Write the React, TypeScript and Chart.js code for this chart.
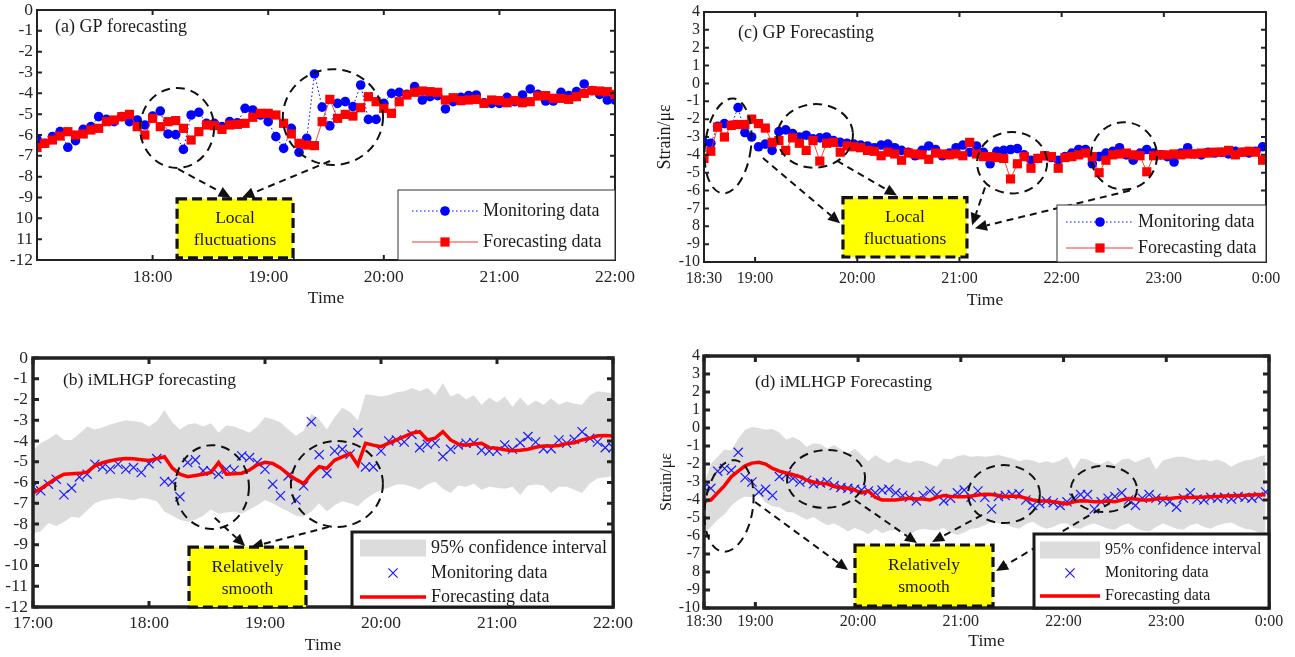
import React, { useEffect, useRef } from 'react';
import { Chart, registerables } from 'chart.js';

Chart.register(...registerables);

const SERIF = '"Liberation Serif", "Times New Roman", Times, serif';
const STEP_MIN = 4; // sampling interval, minutes

// ---------------- axis ticks ----------------
const AB_X_TICKS = [0, 60, 120, 180, 240, 300];
const A_X_LABELS = ['', '18:00', '19:00', '20:00', '21:00', '22:00'];
const B_X_LABELS = ['17:00', '18:00', '19:00', '20:00', '21:00', '22:00'];
const CD_X_TICKS = [0, 30, 90, 150, 210, 270, 330];
const CD_X_LABELS = ['18:30', '19:00', '20:00', '21:00', '22:00', '23:00', '0:00'];
const AB_Y_TICKS = [0, -1, -2, -3, -4, -5, -6, -7, -8, -9, -10, -11, -12];
const A_Y_LABELS = ['0', '-1', '-2', '-3', '-4', '-5', '-6', '-7', '-8', '-9', '10', '11', '-12'];
const B_Y_LABELS = ['0', '-1', '-2', '-3', '-4', '-5', '-6', '-7', '-8', '-9', '-10', '-11', '-12'];
const CD_Y_TICKS = [4, 3, 2, 1, 0, -1, -2, -3, -4, -5, -6, -7, -8, -9, -10];
const CD_Y_LABELS = ['4', '3', '2', '1', '0', '-1', '-2', '-3', '-4', '-5', '-6', '-7', '8', '-9', '-10'];

// ---------------- data: 17:00-22:00 (panels a, b) ----------------
const MON_AB = [
  -6.2, -6.4, -6.08, -5.84, -6.59, -6.27, -5.73, -5.6, -5.12, -5.25,
  -5.36, -5.12, -5.36, -5.28, -5.52, -5.09, -4.85, -5.95, -5.98, -6.69,
  -5.04, -4.91, -5.44, -5.44, -5.6, -5.36, -5.41, -4.72, -4.8, -5.04,
  -5.36, -6.08, -6.64, -5.68, -6.83, -6.16, -3.07, -4.66, -5.56, -4.48,
  -4.4, -4.64, -3.6, -5.25, -5.25, -4.48, -4.0, -3.95, -4.05, -3.68,
  -4.32, -4.16, -4.11, -4.75, -4.4, -4.19, -4.11, -4.08, -4.45, -4.48,
  -4.48, -4.19, -4.4, -4.08, -3.79, -4.05, -4.37, -4.37, -3.95, -4.11,
  -3.92, -3.55, -3.87, -4.05, -4.32, -4.32,
];
const FC_A = [
  -6.6, -6.4, -6.24, -6.05, -5.84, -6.0, -5.95, -5.76, -5.68, -5.36,
  -5.28, -5.12, -5.01, -5.6, -6.0, -5.2, -5.6, -5.36, -5.31, -5.68,
  -6.24, -5.84, -5.52, -5.55, -5.73, -5.52, -5.49, -5.44, -5.15, -4.96,
  -4.96, -5.04, -5.44, -5.95, -6.4, -6.48, -6.51, -5.36, -4.29, -5.2,
  -5.01, -5.09, -4.69, -4.16, -4.4, -4.72, -4.96, -4.4, -4.08, -3.95,
  -3.89, -3.92, -3.95, -4.32, -4.21, -4.35, -4.32, -4.29, -4.48, -4.32,
  -4.35, -4.45, -4.35, -4.45, -4.4, -4.13, -4.11, -4.24, -4.24, -4.29,
  -4.16, -4.0, -3.87, -3.89, -3.92, -4.05,
];
const FC_B = [
  -6.5, -6.3, -6.05, -5.8, -5.6, -5.58, -5.56, -5.5, -5.2, -5.05,
  -4.95, -4.88, -4.84, -4.86, -4.9, -4.94, -4.85, -4.76, -5.3, -5.6,
  -5.72, -5.66, -5.6, -5.52, -5.04, -5.6, -5.58, -5.55, -5.4, -5.15,
  -5.03, -5.08, -5.3, -5.6, -5.85, -6.05, -5.6, -5.24, -5.32, -4.92,
  -4.76, -4.6, -5.16, -4.11, -4.2, -4.27, -4.1, -3.95, -3.79, -3.62,
  -3.55, -3.95, -3.87, -3.55, -3.95, -4.15, -4.2, -4.15, -4.11, -4.32,
  -4.35, -4.42, -4.47, -4.45, -4.4, -4.3, -4.24, -4.24, -4.22, -4.12,
  -4.08, -3.95, -3.87, -3.75, -3.73, -3.76,
];
const BAND_B_UP = [
  -4.45, -4.1, -3.9, -3.65, -3.95, -3.95, -3.65, -3.3, -3.45, -3.35,
  -3.2, -3.1, -3.0, -3.05, -3.1, -3.3, -3.05, -2.5, -3.1, -3.45,
  -3.2, -3.15, -3.3, -3.15, -3.6, -3.25, -3.3, -3.45, -3.6, -3.3,
  -2.85, -2.95, -3.1, -3.45, -3.75, -3.5, -2.7, -2.95, -3.45, -2.85,
  -2.4, -2.6, -3.0, -1.75, -1.8, -1.85, -1.8, -1.65, -1.6, -1.45,
  -1.6, -1.45, -1.8, -1.2, -1.85, -1.7, -2.0, -1.8, -2.25, -1.9,
  -2.15, -1.85, -2.35, -1.9, -2.3, -2.05, -2.25, -1.95, -2.25, -2.1,
  -2.2, -2.25, -1.8, -1.6, -1.65, -1.7,
];
const BAND_B_LO = [
  -8.45, -8.35, -7.95, -8.1, -7.9, -7.65, -7.7, -7.35, -7.0, -6.85,
  -6.8, -6.75, -6.8, -6.85, -6.75, -6.8, -6.9, -7.4, -7.6, -7.8,
  -7.9, -7.8, -7.6, -7.3, -7.5, -7.45, -7.4, -7.5, -7.3, -7.1,
  -6.85, -7.0, -7.2, -7.4, -7.6, -7.65, -7.4, -7.0, -7.4, -7.1,
  -6.9, -7.0, -7.15, -6.8, -6.55, -6.35, -6.25, -6.1, -6.1, -6.2,
  -6.35, -6.1, -5.95, -6.3, -6.5, -6.15, -6.2, -6.05, -6.35, -6.2,
  -6.25, -6.3, -6.2, -6.6, -6.15, -6.1, -6.15, -6.5, -6.2, -6.2,
  -6.35, -6.5, -6.05, -5.8, -5.75, -5.7,
];

// ---------------- data: 18:30-0:00 (panels c, d) ----------------
const MON_CD = [
  -3.3, -3.35, -2.4, -2.25, -2.35, -1.35, -2.75, -3.0, -3.55, -3.4,
  -3.75, -2.7, -2.6, -2.8, -3.0, -2.9, -3.1, -3.05, -3.0, -3.2,
  -3.3, -3.35, -3.4, -3.45, -3.5, -3.6, -3.45, -3.4, -3.6, -3.75,
  -3.85, -4.05, -3.75, -3.5, -3.7, -4.05, -3.9, -3.6, -3.45, -3.85,
  -3.5, -3.85, -4.5, -3.8, -3.75, -3.7, -3.65, -4.0, -4.3, -4.2,
  -4.05, -4.15, -4.3, -4.1, -3.9, -3.7, -3.7, -4.5, -4.1, -3.9,
  -3.8, -3.6, -4.0, -4.3, -3.9, -3.7, -3.9, -4.0, -4.1, -4.4,
  -3.9, -3.6, -3.95, -4.0, -3.85, -3.9, -3.85, -3.95, -3.8, -3.85,
  -3.9, -3.8, -3.55,
];
const FC_C = [
  -4.2, -3.8, -2.45, -3.0, -2.35, -2.3, -2.3, -2.0, -2.25, -2.5,
  -3.3, -3.2, -3.75, -3.05, -3.35, -3.75, -3.2, -4.35, -3.35, -3.3,
  -3.85, -3.5, -3.55, -3.6, -3.75, -3.8, -4.05, -3.85, -3.95, -4.3,
  -3.9, -3.95, -4.0, -4.25, -3.9, -3.95, -4.0, -3.95, -4.05, -3.3,
  -3.95, -4.1, -4.1, -4.15, -4.2, -5.35, -4.5, -4.1, -4.75, -4.2,
  -4.05, -4.1, -4.75, -4.15, -4.1, -4.0, -3.9, -4.1, -5.0, -4.3,
  -4.0, -3.95, -3.9, -4.0, -4.05, -4.95, -4.05, -4.0, -4.0, -3.95,
  -4.0, -3.95, -3.95, -3.9, -3.9, -3.85, -3.85, -3.75, -4.0, -3.85,
  -3.8, -3.85, -4.3,
];
const FC_D = [
  -4.05, -4.0, -3.6, -3.2, -2.7, -2.4, -2.1, -1.95, -1.9, -2.0,
  -2.25, -2.4, -2.5, -2.6, -2.7, -2.9, -3.0, -3.07, -3.1, -3.25,
  -3.3, -3.35, -3.45, -3.6, -3.5, -3.85, -4.0, -4.0, -4.0, -3.95,
  -3.9, -3.95, -3.95, -4.0, -3.85, -3.75, -3.8, -3.82, -3.82, -3.78,
  -3.72, -3.68, -3.7, -3.75, -3.82, -3.78, -3.8, -3.9, -4.0, -4.05,
  -4.05, -4.1, -4.15, -4.22, -4.1, -4.04, -4.05, -4.1, -4.1, -4.05,
  -4.1, -4.0, -3.92, -3.95, -4.0, -4.0, -3.95, -3.9, -3.92, -3.88,
  -3.85, -3.86, -3.85, -3.84, -3.82, -3.8, -3.78, -3.76, -3.75, -3.74,
  -3.72, -3.7, -3.72,
];
const BAND_D_UP = [
  -3.1, -2.0, -1.6, -1.2, -1.25, -0.6, -0.1, 0.05, 0.0, -0.1,
  -0.05, -0.25, -0.65, -0.5, -0.7, -1.05, -0.85, -0.9, -1.15, -0.95,
  -1.2, -1.4, -1.15, -1.5, -1.85, -1.5, -1.75, -1.95, -1.7, -1.85,
  -1.95, -1.8, -1.85, -2.0, -2.15, -1.7, -1.75, -1.55, -1.5, -1.6,
  -1.55, -1.6, -1.55, -1.5, -1.6, -1.7, -1.85, -1.75, -1.8, -1.95,
  -1.85, -1.95, -1.8, -1.6, -2.3, -1.7, -1.75, -1.95, -2.0, -1.8,
  -2.05, -1.75, -1.7, -1.9, -1.75, -1.6, -2.3, -1.8, -1.7, -1.6,
  -1.6, -1.7, -1.8, -1.75, -1.85, -1.75, -1.9, -2.15, -1.95, -1.8,
  -1.75, -1.6, -1.5,
];
const BAND_D_LO = [
  -5.85, -5.5, -5.1, -4.8, -4.3, -4.0, -3.8, -3.85, -3.7, -4.15,
  -4.35, -4.4, -4.65, -4.7, -4.9, -5.1, -4.95, -5.2, -5.4, -5.3,
  -5.5, -5.75, -5.55, -5.7, -5.9, -5.6, -5.85, -5.7, -5.65, -5.8,
  -5.95, -5.7, -5.6, -5.65, -5.7, -5.55, -5.8, -5.95, -5.8, -5.6,
  -5.55, -5.4, -5.2, -5.3, -5.35, -5.5, -5.6, -5.35, -5.2, -5.45,
  -5.6, -5.5, -5.3, -5.3, -5.55, -5.6, -5.4, -5.3, -5.45, -5.6,
  -5.65, -5.4, -5.3, -5.55, -5.7, -5.75, -5.5, -5.3, -5.45, -5.6,
  -5.65, -5.4, -5.3, -5.5, -5.6, -5.4, -5.3, -5.25, -5.45, -5.6,
  -5.65, -5.8, -5.9,
];

// ---------------- helpers ----------------
const pts = (arr: number[]) => arr.map((v, i) => ({ x: i * STEP_MIN, y: v }));

type Ell = { cx: number; cy: number; rx: number; ry: number; rot?: number };
type Arr = { x1: number; y1: number; x2: number; y2: number };
type YBox = { x1: number; x2: number; y1: number; y2: number; lines: string[] };
type LegendSpec = {
  kind: 'gp' | 'ml'; w: number; h: number; rows: number[]; s0: number; s1: number; mx: number; tx: number;
  font: number; border: number;
};
type Spec = {
  left: number; top: number; width: number; height: number;
  padTop: number; padRight: number; yWidth: number; xHeight: number;
  xMax: number; xTicks: number[]; xLabels: string[]; yMin: number; yMax: number; yTicks: number[]; yLabels: string[];
  tickFont: number; xPad: number; yPad: number; frame: number; tickLen: number; tickW: number;
  title: string; titleDx: number; titleDy: number; titleFont: number;
  timeDy: number; yTitle?: string; yTitleDx?: number; yTitleFont?: number;
  ellipses: Ell[]; arrows: Arr[]; box: YBox; legend: LegendSpec;
  datasets: any[];
};

function drawArrow(ctx: CanvasRenderingContext2D, x1: number, y1: number, x2: number, y2: number) {
  const ang = Math.atan2(y2 - y1, x2 - x1);
  const hl = 12, hw = 5.5;
  const bx = x2 - hl * Math.cos(ang), by = y2 - hl * Math.sin(ang);
  ctx.save();
  ctx.strokeStyle = '#111';
  ctx.lineWidth = 2;
  ctx.setLineDash([7, 5]);
  ctx.beginPath();
  ctx.moveTo(x1, y1);
  ctx.lineTo(bx, by);
  ctx.stroke();
  ctx.setLineDash([]);
  ctx.fillStyle = '#111';
  ctx.beginPath();
  ctx.moveTo(x2, y2);
  ctx.lineTo(bx + hw * Math.sin(ang), by - hw * Math.cos(ang));
  ctx.lineTo(bx - hw * Math.sin(ang), by + hw * Math.cos(ang));
  ctx.closePath();
  ctx.fill();
  ctx.restore();
}

function drawOverlay(chart: any, s: Spec) {
  const { ctx, chartArea: ca, scales } = chart;
  const xs = scales.x, ys = scales.y;
  const X = (v: number) => xs.getPixelForValue(v);
  const Y = (v: number) => ys.getPixelForValue(v);
  ctx.save();
  // inward tick marks
  ctx.strokeStyle = '#222';
  ctx.lineWidth = s.tickW;
  ctx.beginPath();
  s.xTicks.forEach((v) => {
    const px = X(v);
    ctx.moveTo(px, ca.bottom); ctx.lineTo(px, ca.bottom - s.tickLen);
    ctx.moveTo(px, ca.top); ctx.lineTo(px, ca.top + s.tickLen);
  });
  s.yTicks.forEach((v) => {
    const py = Y(v);
    ctx.moveTo(ca.left, py); ctx.lineTo(ca.left + s.tickLen, py);
    ctx.moveTo(ca.right, py); ctx.lineTo(ca.right - s.tickLen, py);
  });
  ctx.stroke();
  // frame
  ctx.lineWidth = s.frame;
  ctx.strokeRect(ca.left, ca.top, ca.right - ca.left, ca.bottom - ca.top);

  // texts
  ctx.fillStyle = '#1a1a1a';
  ctx.textBaseline = 'middle';
  ctx.textAlign = 'left';
  ctx.font = `${s.titleFont}px ${SERIF}`;
  ctx.fillText(s.title, ca.left + s.titleDx, ca.top + s.titleDy);
  ctx.textAlign = 'center';
  ctx.font = `17.5px ${SERIF}`;
  ctx.fillText('Time', (ca.left + ca.right) / 2, ca.bottom + s.timeDy);
  if (s.yTitle) {
    ctx.save();
    ctx.translate(ca.left - (s.yTitleDx || 0), (ca.top + ca.bottom) / 2);
    ctx.rotate(-Math.PI / 2);
    ctx.font = `${s.yTitleFont}px ${SERIF}`;
    ctx.fillText(s.yTitle, 0, 0);
    ctx.restore();
  }

  // dashed ellipses
  ctx.strokeStyle = '#111';
  ctx.lineWidth = 2;
  ctx.setLineDash([9, 6]);
  s.ellipses.forEach((e) => {
    const cx = X(e.cx), cy = Y(e.cy);
    const rx = Math.abs(X(e.cx + e.rx) - cx), ry = Math.abs(Y(e.cy + e.ry) - cy);
    ctx.beginPath();
    ctx.ellipse(cx, cy, rx, ry, e.rot || 0, 0, Math.PI * 2);
    ctx.stroke();
  });
  ctx.setLineDash([]);

  // arrows
  s.arrows.forEach((a) => drawArrow(ctx, X(a.x1), Y(a.y1), X(a.x2), Y(a.y2)));

  // yellow box
  const b = s.box;
  const bx1 = X(b.x1), bx2 = X(b.x2), by1 = Y(b.y1), by2 = Y(b.y2);
  ctx.fillStyle = '#ffff00';
  ctx.fillRect(bx1, by1, bx2 - bx1, by2 - by1);
  ctx.strokeStyle = '#111';
  ctx.lineWidth = 3.2;
  ctx.setLineDash([10, 5]);
  ctx.strokeRect(bx1, by1, bx2 - bx1, by2 - by1);
  ctx.setLineDash([]);
  ctx.fillStyle = '#1a1a1a';
  ctx.font = `17.5px ${SERIF}`;
  ctx.textAlign = 'center';
  const bcx = (bx1 + bx2) / 2, bcy = (by1 + by2) / 2;
  ctx.fillText(b.lines[0], bcx, bcy - 10);
  ctx.fillText(b.lines[1], bcx, bcy + 12);

  // legend
  const L = s.legend;
  const lx = ca.right - L.w, ly = ca.bottom - L.h;
  ctx.fillStyle = '#fff';
  ctx.fillRect(lx, ly, L.w, L.h);
  ctx.strokeStyle = L.border > 1.5 ? '#1a1a1a' : '#333';
  ctx.lineWidth = L.border;
  ctx.strokeRect(lx, ly, L.w, L.h);
  ctx.font = `${L.font}px ${SERIF}`;
  ctx.textAlign = 'left';
  ctx.fillStyle = '#1a1a1a';
  if (L.kind === 'gp') {
    const r0 = ly + L.rows[0], r1 = ly + L.rows[1];
    ctx.strokeStyle = '#0000ff';
    ctx.lineWidth = 1;
    ctx.setLineDash([1.5, 2.5]);
    ctx.beginPath(); ctx.moveTo(lx + L.s0, r0); ctx.lineTo(lx + L.s1, r0); ctx.stroke();
    ctx.setLineDash([]);
    ctx.fillStyle = '#0000ff';
    ctx.beginPath(); ctx.arc(lx + L.mx, r0, 4.8, 0, Math.PI * 2); ctx.fill();
    ctx.strokeStyle = '#ff3030';
    ctx.beginPath(); ctx.moveTo(lx + L.s0, r1); ctx.lineTo(lx + L.s1, r1); ctx.stroke();
    ctx.fillStyle = '#ff0000';
    ctx.fillRect(lx + L.mx - 4.6, r1 - 4.6, 9.2, 9.2);
    ctx.fillStyle = '#1a1a1a';
    ctx.fillText('Monitoring data', lx + L.tx, r0);
    ctx.fillText('Forecasting data', lx + L.tx, r1);
  } else {
    const r0 = ly + L.rows[0], r1 = ly + L.rows[1], r2 = ly + L.rows[2];
    ctx.fillStyle = '#dcdcdc';
    ctx.fillRect(lx + L.s0, r0 - 8.5, L.s1 - L.s0, 17);
    ctx.strokeStyle = '#1a1aff';
    ctx.lineWidth = 1.2;
    const c = 4.6, mx = lx + L.mx;
    ctx.beginPath();
    ctx.moveTo(mx - c, r1 - c); ctx.lineTo(mx + c, r1 + c);
    ctx.moveTo(mx - c, r1 + c); ctx.lineTo(mx + c, r1 - c);
    ctx.stroke();
    ctx.strokeStyle = '#ff0000';
    ctx.lineWidth = 3.5;
    ctx.beginPath(); ctx.moveTo(lx + L.s0, r2); ctx.lineTo(lx + L.s1, r2); ctx.stroke();
    ctx.fillStyle = '#1a1a1a';
    ctx.fillText('95% confidence interval', lx + L.tx, r0);
    ctx.fillText('Monitoring data', lx + L.tx, r1);
    ctx.fillText('Forecasting data', lx + L.tx, r2);
  }
  ctx.restore();
}

function buildConfig(s: Spec): any {
  const fixAxis = (size: number, horizontal: boolean) => (axis: any) => {
    if (horizontal) axis.height = size; else axis.width = size;
    axis.paddingTop = 0; axis.paddingBottom = 0; axis.paddingLeft = 0; axis.paddingRight = 0;
  };
  return {
    type: 'line',
    data: { datasets: s.datasets },
    options: {
      responsive: false,
      animation: false,
      devicePixelRatio: 1,
      events: [],
      layout: { padding: { left: 0, top: s.padTop, right: s.padRight, bottom: 0 } },
      plugins: { legend: { display: false }, tooltip: { enabled: false }, title: { display: false } },
      scales: {
        x: {
          type: 'linear', min: 0, max: s.xMax,
          grid: { display: false, drawTicks: false }, border: { display: false },
          afterBuildTicks: (axis: any) => { axis.ticks = s.xTicks.map((v) => ({ value: v })); },
          afterFit: fixAxis(s.xHeight, true),
          ticks: {
            autoSkip: false, maxRotation: 0, minRotation: 0, padding: s.xPad, color: '#262626',
            font: { family: SERIF, size: s.tickFont },
            callback: (v: number) => { const k = s.xTicks.indexOf(v); return k >= 0 ? s.xLabels[k] : ''; },
          },
        },
        y: {
          type: 'linear', min: s.yMin, max: s.yMax,
          grid: { display: false, drawTicks: false }, border: { display: false },
          afterBuildTicks: (axis: any) => { axis.ticks = s.yTicks.map((v) => ({ value: v })); },
          afterFit: fixAxis(s.yWidth, false),
          ticks: {
            autoSkip: false, padding: s.yPad, color: '#262626',
            font: { family: SERIF, size: s.tickFont },
            callback: (v: number) => { const k = s.yTicks.indexOf(v); return k >= 0 ? s.yLabels[k] : ''; },
          },
        },
      },
    },
    plugins: [{ id: 'overlay', afterDraw: (chart: any) => drawOverlay(chart, s) }],
  };
}

const gpSets = (mon: number[], fc: number[]) => [
  {
    data: pts(fc), order: 0, borderColor: 'rgba(255,40,40,0.9)', borderWidth: 1,
    pointStyle: 'rect', pointRadius: 6.5, pointBackgroundColor: '#ff0000', pointBorderWidth: 0,
  },
  {
    data: pts(mon), order: 1, borderColor: '#0000ff', borderWidth: 1, borderDash: [1.5, 2.5],
    pointStyle: 'circle', pointRadius: 4.8, pointBackgroundColor: '#0000ff', pointBorderWidth: 0,
  },
];
const mlSets = (mon: number[], fc: number[], up: number[], lo: number[]) => [
  { data: pts(fc), order: 0, borderColor: '#ff0000', borderWidth: 3.5, pointRadius: 0 },
  {
    data: pts(mon), order: 1, showLine: false, pointStyle: 'crossRot', pointRadius: 6.5,
    pointBorderColor: '#1a1aff', pointBackgroundColor: '#1a1aff', pointBorderWidth: 1.2,
  },
  {
    data: pts(up), order: 3, borderColor: 'rgba(0,0,0,0)', borderWidth: 0, pointRadius: 0,
    fill: '+1', backgroundColor: '#dcdcdc',
  },
  { data: pts(lo), order: 4, borderColor: 'rgba(0,0,0,0)', borderWidth: 0, pointRadius: 0, fill: false },
];

const SPEC_A: Spec = {
  left: 0, top: 0, width: 647, height: 320, padTop: 10, padRight: 32, yWidth: 37, xHeight: 60,
  xMax: 300, xTicks: AB_X_TICKS, xLabels: A_X_LABELS, yMin: -12, yMax: 0, yTicks: AB_Y_TICKS, yLabels: A_Y_LABELS,
  tickFont: 17.5, xPad: 6.5, yPad: 4, frame: 2, tickLen: 5, tickW: 2,
  title: '(a) GP forecasting', titleDx: 18, titleDy: 17, titleFont: 18, timeDy: 38,
  ellipses: [
    { cx: 72.7, cy: -5.66, rx: 19.2, ry: 1.92 },
    { cx: 153.6, cy: -5.14, rx: 26, ry: 2.3 },
  ],
  arrows: [
    { x1: 73.2, y1: -7.63, x2: 100.5, y2: -9.0 },
    { x1: 152.1, y1: -7.25, x2: 106.5, y2: -9.0 },
  ],
  box: { x1: 72.7, x2: 132.9, y1: -9.07, y2: -11.9, lines: ['Local', 'fluctuations'] },
  legend: { kind: 'gp', w: 217, h: 70, rows: [21, 52], s0: 14, s1: 80, mx: 47, tx: 85, font: 18, border: 1 },
  datasets: gpSets(MON_AB, FC_A),
};

const SPEC_C: Spec = {
  left: 647, top: 0, width: 648, height: 320, padTop: 12, padRight: 29, yWidth: 57, xHeight: 58,
  xMax: 330, xTicks: CD_X_TICKS, xLabels: CD_X_LABELS, yMin: -10, yMax: 4, yTicks: CD_Y_TICKS, yLabels: CD_Y_LABELS,
  tickFont: 16, xPad: 7, yPad: 4, frame: 2, tickLen: 5, tickW: 2,
  title: '(c) GP Forecasting', titleDx: 34, titleDy: 21, titleFont: 18, timeDy: 38,
  yTitle: 'Strain/με', yTitleDx: 39, yTitleFont: 18,
  ellipses: [
    { cx: 14.1, cy: -3.5, rx: 13.5, ry: 2.67, rot: 0.12 },
    { cx: 65.2, cy: -2.94, rx: 22.3, ry: 1.78, rot: -0.08 },
    { cx: 180.9, cy: -4.44, rx: 20.6, ry: 1.72 },
    { cx: 246.6, cy: -4.06, rx: 19.4, ry: 1.89 },
  ],
  arrows: [
    { x1: 34.6, y1: -4.17, x2: 79.9, y2: -7.83 },
    { x1: 78.1, y1: -4.33, x2: 113.3, y2: -6.28 },
    { x1: 165, y1: -5.83, x2: 157.4, y2: -7.94 },
    { x1: 250.1, y1: -6.0, x2: 159.1, y2: -8.11 },
  ],
  box: { x1: 81.6, x2: 154.4, y1: -6.39, y2: -9.72, lines: ['Local', 'fluctuations'] },
  legend: { kind: 'gp', w: 209, h: 57, rows: [17, 43], s0: 9, s1: 76, mx: 43, tx: 81, font: 18, border: 1 },
  datasets: gpSets(MON_CD, FC_C),
};

const SPEC_B: Spec = {
  left: 0, top: 320, width: 647, height: 337, padTop: 38, padRight: 34, yWidth: 33, xHeight: 50,
  xMax: 300, xTicks: AB_X_TICKS, xLabels: B_X_LABELS, yMin: -12, yMax: 0, yTicks: AB_Y_TICKS, yLabels: B_Y_LABELS,
  tickFont: 17.5, xPad: 5.5, yPad: 5, frame: 3.5, tickLen: 6, tickW: 3,
  title: '(b) iMLHGP forecasting', titleDx: 30, titleDy: 22, titleFont: 17.5, timeDy: 38,
  ellipses: [
    { cx: 92.6, cy: -6.22, rx: 19.1, ry: 2.02 },
    { cx: 157.2, cy: -6.07, rx: 23.8, ry: 2.07 },
  ],
  arrows: [
    { x1: 94, y1: -7.7, x2: 109.7, y2: -9.06 },
    { x1: 153, y1: -8.14, x2: 112.8, y2: -9.11 },
  ],
  box: { x1: 80.7, x2: 141.2, y1: -9.11, y2: -12, lines: ['Relatively', 'smooth'] },
  legend: { kind: 'ml', w: 261, h: 75, rows: [16, 41, 65], s0: 8, s1: 74, mx: 41, tx: 79, font: 18, border: 3 },
  datasets: mlSets(MON_AB, FC_B, BAND_B_UP, BAND_B_LO),
};

const SPEC_D: Spec = {
  left: 647, top: 320, width: 648, height: 337, padTop: 36, padRight: 26, yWidth: 57, xHeight: 49,
  xMax: 330, xTicks: CD_X_TICKS, xLabels: CD_X_LABELS, yMin: -10, yMax: 4, yTicks: CD_Y_TICKS, yLabels: CD_Y_LABELS,
  tickFont: 16, xPad: 4.5, yPad: 4, frame: 3.5, tickLen: 6, tickW: 3,
  title: '(d) iMLHGP Forecasting', titleDx: 51, titleDy: 26, titleFont: 17.5, timeDy: 33,
  yTitle: 'Strain/με', yTitleDx: 37, yTitleFont: 16,
  ellipses: [
    { cx: 14.6, cy: -4.33, rx: 14, ry: 2.56, rot: 0.14 },
    { cx: 71.3, cy: -2.83, rx: 22.8, ry: 1.61, rot: -0.06 },
    { cx: 175.2, cy: -3.67, rx: 21, ry: 1.61 },
    { cx: 233.6, cy: -3.39, rx: 19.3, ry: 1.28 },
  ],
  arrows: [
    { x1: 29.8, y1: -4.11, x2: 84.1, y2: -7.89 },
    { x1: 88.2, y1: -4.0, x2: 124.4, y2: -6.39 },
    { x1: 162.4, y1: -4.83, x2: 133.2, y2: -6.33 },
    { x1: 237.1, y1: -4.17, x2: 170.6, y2: -7.94 },
  ],
  box: { x1: 88.2, x2: 168.8, y1: -6.5, y2: -9.89, lines: ['Relatively', 'smooth'] },
  legend: { kind: 'ml', w: 235, h: 74, rows: [16, 39, 62], s0: 6, s1: 66, mx: 36, tx: 71, font: 16, border: 3 },
  datasets: mlSets(MON_CD, FC_D, BAND_D_UP, BAND_D_LO),
};

function Panel({ spec }: { spec: Spec }) {
  const ref = useRef<HTMLCanvasElement | null>(null);
  useEffect(() => {
    if (!ref.current) return;
    const chart = new Chart(ref.current, buildConfig(spec));
    return () => chart.destroy();
  }, [spec]);
  return (
    <canvas
      ref={ref}
      width={spec.width}
      height={spec.height}
      style={{ position: 'absolute', left: spec.left, top: spec.top, width: spec.width, height: spec.height }}
    />
  );
}

export default function App() {
  return (
    <div style={{ position: 'absolute', left: 0, top: 0, width: 1295, height: 657, background: '#fff', overflow: 'hidden' }}>
      <Panel spec={SPEC_A} />
      <Panel spec={SPEC_C} />
      <Panel spec={SPEC_B} />
      <Panel spec={SPEC_D} />
    </div>
  );
}
